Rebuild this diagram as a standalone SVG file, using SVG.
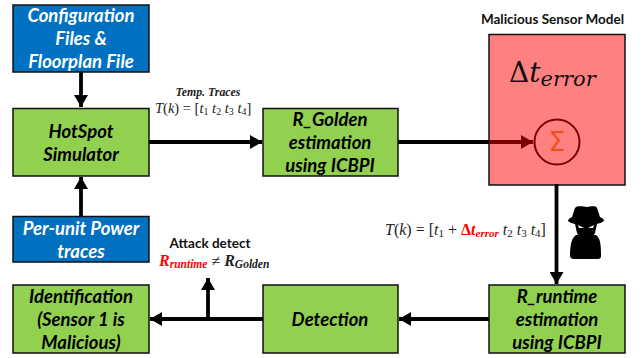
<svg xmlns="http://www.w3.org/2000/svg" width="644" height="358" viewBox="0 0 644 358">
<style>
.blue{fill:#0070c0;stroke:#111;stroke-width:1.5}
.green{fill:#92d050;stroke:#111;stroke-width:1.5}
.t{font-family:Lato,"Open Sans",sans-serif;font-weight:700;font-style:italic;font-size:18.5px;text-anchor:middle}
.w{fill:#fff}
.k{fill:#000}
.c{fill:none;stroke:#000;stroke-width:3.8}
.s{font-family:Lato,"Open Sans",sans-serif;font-weight:700;font-size:13.5px;fill:#111;text-anchor:middle}
</style>
<defs>
<marker id="a" markerUnits="userSpaceOnUse" markerWidth="14" markerHeight="14" refX="12" refY="7" orient="auto"><path d="M0 0L12 7L0 14Z" fill="#000"/></marker>
<marker id="r" markerUnits="userSpaceOnUse" markerWidth="14" markerHeight="14" refX="12" refY="7" orient="auto"><path d="M0 0L12 7L0 14Z" fill="#7a0000"/></marker>
</defs>
<g id="malicious-model">
<rect x="489" y="34.500" width="136" height="150.500" fill="#ff8080" stroke="#111" stroke-width="1.500"/>
<text x="552.500" y="24" class="s">Malicious Sensor Model</text>
<text x="509" y="82" font-family="'DejaVu Serif',serif" font-size="28" fill="#111">Δ<tspan font-style="italic">t</tspan><tspan font-style="italic" font-size="21" dy="4">error</tspan></text>
</g>
<g id="connectors">
<path class="c" d="M81 72V107" marker-end="url(#a)"/>
<path class="c" d="M81 216V177" marker-end="url(#a)"/>
<path class="c" d="M148 142H262" marker-end="url(#a)"/>
<path class="c" d="M398 142H490"/>
<path d="M489 142H533" fill="none" stroke="#7a0000" stroke-width="3.800" marker-end="url(#r)"/>
<path class="c" d="M556.500 184V284" marker-end="url(#a)"/>
<path class="c" d="M489 319H399" marker-end="url(#a)"/>
<path class="c" d="M263 319H150" marker-end="url(#a)"/>
<path class="c" d="M208 319V278" marker-end="url(#a)"/>
</g>
<g id="sum">
<circle cx="557" cy="142" r="22.500" fill="none" stroke="#7a0000" stroke-width="2"/>
<text x="557" y="151" font-family="'DejaVu Sans',sans-serif" font-size="26" fill="#f05020" text-anchor="middle">Σ</text>
</g>
<g id="config"><rect class="blue" x="13" y="5" width="136" height="67"/>
<text class="t w" x="81" y="22">Configuration</text><text class="t w" x="81" y="45">Files &amp;</text><text class="t w" x="81" y="68">Floorplan File</text></g>
<g id="hotspot"><rect class="green" x="13" y="108.500" width="136" height="67.500"/>
<text class="t k" x="81" y="138">HotSpot</text><text class="t k" x="81" y="161">Simulator</text></g>
<g id="power"><rect class="blue" x="13" y="216.500" width="136" height="45.500"/>
<text class="t w" x="81" y="235">Per-unit Power</text><text class="t w" x="81" y="258">traces</text></g>
<g id="identification"><rect class="green" x="13" y="285" width="136" height="68"/>
<text class="t k" x="81" y="303">Identification</text><text class="t k" x="81" y="326">(Sensor 1 is</text><text class="t k" x="81" y="349">Malicious)</text></g>
<g id="golden"><rect class="green" x="263" y="108.500" width="135" height="67.500"/>
<text class="t k" x="330" y="126">R_Golden</text><text class="t k" x="330" y="149">estimation</text><text class="t k" x="330" y="172">using ICBPI</text></g>
<g id="detection"><rect class="green" x="263" y="285" width="135" height="68"/>
<text class="t k" x="330" y="326">Detection</text></g>
<g id="runtime"><rect class="green" x="489" y="285" width="136" height="68"/>
<text class="t k" x="557" y="303">R_runtime</text><text class="t k" x="557" y="326">estimation</text><text class="t k" x="557" y="349">using ICBPI</text></g>
<g id="labels">
<text x="208" y="96" font-family="'Liberation Serif',serif" font-weight="700" font-style="italic" font-size="13.500" fill="#222" text-anchor="middle" textLength="65" lengthAdjust="spacingAndGlyphs">Temp. Traces</text>
<text x="155" y="113" font-family="'Liberation Serif',serif" font-size="14.500" fill="#222"><tspan font-style="italic">T</tspan>(<tspan font-style="italic">k</tspan>) = [<tspan font-style="italic">t</tspan><tspan font-size="10" dy="2">1</tspan><tspan font-style="italic" dy="-2"> t</tspan><tspan font-size="10" dy="2">2</tspan><tspan font-style="italic" dy="-2"> t</tspan><tspan font-size="10" dy="2">3</tspan><tspan font-style="italic" dy="-2"> t</tspan><tspan font-size="10" dy="2">4</tspan><tspan dy="-2">]</tspan></text>
<text x="385" y="235" font-family="'Liberation Serif',serif" font-size="16" fill="#222"><tspan font-style="italic">T</tspan>(<tspan font-style="italic">k</tspan>) = [<tspan font-style="italic">t</tspan><tspan font-size="11" dy="2">1</tspan><tspan dy="-2"> + </tspan><tspan fill="#ff0000" font-weight="700">Δ<tspan font-style="italic">t</tspan><tspan font-style="italic" font-size="11" dy="2">error</tspan></tspan><tspan font-style="italic" dy="-2"> t</tspan><tspan font-size="11" dy="2">2</tspan><tspan font-style="italic" dy="-2"> t</tspan><tspan font-size="11" dy="2">3</tspan><tspan font-style="italic" dy="-2"> t</tspan><tspan font-size="11" dy="2">4</tspan><tspan dy="-2">]</tspan></text>
<text x="210" y="248" class="s">Attack detect</text>
<text x="159" y="266" font-family="'Liberation Serif',serif" font-weight="700" font-style="italic" font-size="16" fill="#ff0000">R<tspan font-size="11.500" dy="2">runtime</tspan><tspan fill="#222" font-style="normal" font-weight="400" dy="-2"> ≠ </tspan><tspan fill="#222">R</tspan><tspan fill="#222" font-size="11.500" dy="2">Golden</tspan></text>
</g>
<g id="spy">
<path d="M572 217L575 208C578 205 584 207 587 207C590 207 595 205 597 208L600 217C603 218 604 220 604 221C600 224 593 225 586 225C579 225 571 224 568 221C568 219 570 218 572 217Z" fill="#000"/>
<path d="M575 224H597L595 233C594 236 590 238 586 238C582 238 578 236 577 233Z" fill="#000"/>
<path d="M578 225L584 228L579 228ZM594 225L588 228L593 228Z" fill="#fff"/>
<path d="M576 235L596 235C600 238 601 243 601 256C601 258 600 259 598 259H574C572 259 570 258 570 256C570 243 572 238 576 235Z" fill="#000"/>
</g>
</svg>
